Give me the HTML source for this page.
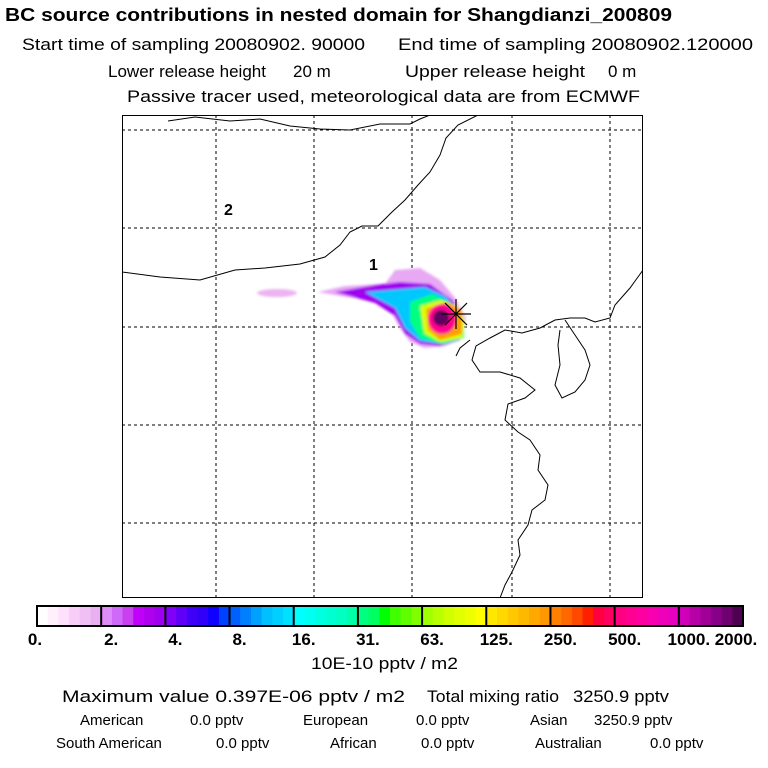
<!DOCTYPE html>
<html><head><meta charset="utf-8"><style>
body{margin:0;background:#fff;width:768px;height:768px;overflow:hidden;font-family:"Liberation Sans",sans-serif;}
svg{position:absolute;left:0;top:0}
</style></head><body>
<svg width="768" height="768">
<g font-family="Liberation Sans, sans-serif" fill="#000" font-size="17">
<text x="5" y="21" font-size="18" font-weight="bold" textLength="667" lengthAdjust="spacingAndGlyphs">BC  source contributions in nested domain for Shangdianzi_200809</text>
<text x="22" y="50" textLength="343" lengthAdjust="spacingAndGlyphs">Start time of sampling 20080902. 90000</text>
<text x="398" y="50" textLength="355" lengthAdjust="spacingAndGlyphs">End time of sampling 20080902.120000</text>
<text x="108" y="77" textLength="158" lengthAdjust="spacingAndGlyphs">Lower release height</text>
<text x="293" y="77">20 m</text>
<text x="405" y="77" textLength="180" lengthAdjust="spacingAndGlyphs">Upper release height</text>
<text x="608" y="77">0 m</text>
<text x="127" y="102" textLength="513" lengthAdjust="spacingAndGlyphs">Passive tracer used, meteorological data are from ECMWF</text>
</g>
<defs><clipPath id="mc"><rect x="122" y="115" width="521" height="483"/></clipPath>
<filter id="bl"><feGaussianBlur stdDeviation="1.2"/></filter></defs>
<g clip-path="url(#mc)">
<g stroke="#000" stroke-dasharray="3,3" stroke-width="1" id="grid"></g>
<g filter="url(#bl)">
<ellipse cx="277" cy="293" rx="20" ry="4" fill="#ecb4f0"/>
<path d="M318 292 L345 286 L385 284 L395 270 L420 268 L440 280 L455 298 L466 318 L462 338 L445 346 L425 348 L410 342 L400 328 L390 310 L370 300 L340 296 Z" fill="#e8a8f4"/>
<path d="M335 292 L375 285 L400 282 L430 284 L452 300 L465 320 L460 340 L440 346 L420 344 L405 334 L395 316 L375 303 Z" fill="#a000f0"/>
<path d="M365 292 L425 287 L445 296 L462 316 L462 338 L445 344 L420 341 L405 328 L395 308 L380 300 Z" fill="#00c8ff"/>
<path d="M410 302 L432 294 L450 302 L464 318 L464 338 L442 344 L420 338 L410 322 Z" fill="#00ff80"/>
<path d="M420 306 L440 300 L458 306 L465 320 L462 338 L440 342 L424 333 Z" fill="#d8ff00"/>
<path d="M426 309 L446 302 L462 310 L462 334 L440 340 L428 330 Z" fill="#ffa000"/>
<ellipse cx="442" cy="319" rx="14" ry="15" fill="#ff0090"/>
<ellipse cx="441" cy="318" rx="8" ry="8" fill="#600060"/>
</g>
<g fill="none" stroke="#000" stroke-width="1">
<path d="M168 121 L195 117 L230 121 L260 119 L290 126 L320 129 L350 130 L380 124 L410 124 L420 119 L430 115"/>
<path d="M122 272 L160 277 L200 280 L235 270 L265 268 L300 264 L325 257 L340 245 L350 232 L362 226 L378 226 L392 212 L405 200 L418 185 L430 172 L440 155 L446 138 L458 125 L478 115"/>
<path d="M643 270 L630 288 L615 305 L610 318 L595 322 L585 318 L570 318 L555 320 L540 328 L522 333 L505 330 L490 338 L476 346 L472 360 L480 372 L500 372 L520 378 L535 390 L525 398 L508 404 L505 420 L518 432 L530 440 L540 455 L538 470 L548 485 L545 500 L532 510 L528 525 L518 540 L520 555 L512 572 L505 585 L500 598"/>
<path d="M565 320 L575 335 L585 350 L590 365 L585 380 L575 392 L562 398 L555 385 L560 365 L558 345 L560 330"/>
<path d="M470 340 L460 348 L456 356"/>
</g>
<g stroke="#000" stroke-width="1.2">
<line x1="445" y1="303" x2="467" y2="325"/><line x1="467" y1="303" x2="445" y2="325"/>
<line x1="441" y1="314" x2="471" y2="314"/><line x1="456" y1="299" x2="456" y2="329"/>
</g>
<text x="224" y="215" font-size="16" font-weight="bold" font-family="Liberation Sans, sans-serif">2</text>
<text x="369" y="270" font-size="16" font-weight="bold" font-family="Liberation Sans, sans-serif">1</text>
</g>
<rect x="122.5" y="115.5" width="520" height="482" fill="none" stroke="#000"/>
<g id="cbar"></g>
<g font-family="Liberation Sans, sans-serif" fill="#000" font-size="15">
<text x="311" y="669" font-size="17" textLength="147" lengthAdjust="spacingAndGlyphs">10E-10 pptv / m2</text>
<text x="62" y="702" font-size="17" textLength="343" lengthAdjust="spacingAndGlyphs">Maximum value  0.397E-06 pptv / m2</text>
<text x="427" y="702" font-size="17" textLength="132" lengthAdjust="spacingAndGlyphs">Total mixing ratio</text>
<text x="573" y="702" font-size="17" textLength="96" lengthAdjust="spacingAndGlyphs">3250.9 pptv</text>
<text x="80" y="725">American</text>
<text x="190" y="725">0.0 pptv</text>
<text x="303" y="725">European</text>
<text x="416" y="725">0.0 pptv</text>
<text x="530" y="725">Asian</text>
<text x="594" y="725">3250.9 pptv</text>
<text x="56" y="748">South American</text>
<text x="216" y="748">0.0 pptv</text>
<text x="330" y="748">African</text>
<text x="421" y="748">0.0 pptv</text>
<text x="535" y="748">Australian</text>
<text x="650" y="748">0.0 pptv</text>
</g>
</svg>
<script>
const levelLabels=["0.","2.","4.","8.","16.","31.","63.","125.","250.","500.","1000.","2000."];
const colors=["#ffffff","#fff0fb","#fde0fb","#f8cdf8","#f0c0f5","#e8b0f0",
"#e08cf8","#d068f8","#c840f0","#c000f8","#b000f0","#a000f0",
"#8000f8","#6000f8","#4000f8","#3000f8","#1000ff","#0040ff",
"#0060ff","#0080ff","#00a0ff","#00c0ff","#00d0ff","#00e0ff",
"#00ffff","#00fff0","#00ffe0","#00ffd0","#00ffc0","#00ffa8",
"#00ff80","#00ff60","#00ff00","#40ff00","#60ff00","#80ff00",
"#a0ff00","#b8ff00","#d0ff00","#e0ff00","#f0ff00","#ffff00",
"#ffe800","#ffd800","#ffc800","#ffb800","#ffa800","#ff9800",
"#ff8000","#ff6800","#ff4800","#ff2000","#ff0040","#ff0060",
"#ff0080","#ff0090","#ff00a0","#f800b0","#f000b8","#e800c0",
"#d000b8","#b800a8","#a00098","#880088","#700070","#500050"];
const gridX=[216,314,412,512,610];
const gridY=[130,228,327,425,523];
const NS="http://www.w3.org/2000/svg";
const g=document.getElementById('grid');
gridX.forEach(x=>{const l=document.createElementNS(NS,'line');l.setAttribute('x1',x);l.setAttribute('x2',x);l.setAttribute('y1',115);l.setAttribute('y2',598);

g.appendChild(l);});
gridY.forEach(y=>{const l=document.createElementNS(NS,'line');l.setAttribute('y1',y);l.setAttribute('y2',y);l.setAttribute('x1',122);l.setAttribute('x2',643);

g.appendChild(l);});
const cb=document.getElementById('cbar');
const x0=37,x1=743,y0=606,h=20;
const nSeg=levelLabels.length-1, segW=(x1-x0)/nSeg, cw=(x1-x0)/colors.length;
colors.forEach((c,i)=>{const r=document.createElementNS(NS,'rect');r.setAttribute('x',x0+i*cw);r.setAttribute('y',y0);r.setAttribute('width',cw+0.5);r.setAttribute('height',h);r.setAttribute('fill',c);

cb.appendChild(r);});
for(let i=0;i<=nSeg;i++){const x=x0+i*segW;
 const l=document.createElementNS(NS,'line');l.setAttribute('x1',x);l.setAttribute('x2',x);l.setAttribute('y1',y0);l.setAttribute('y2',y0+h);l.setAttribute('stroke','#000');l.setAttribute('stroke-width','2');
 
 cb.appendChild(l);
 const t=document.createElementNS(NS,'text');
 t.setAttribute('x',i==0?x-2:(i==nSeg?x-7:x+10));
 t.setAttribute('text-anchor','middle');
 t.setAttribute('y',645);t.setAttribute('font-size','17');t.setAttribute('font-weight','bold');t.setAttribute('font-family','Liberation Sans, sans-serif');
 t.textContent=levelLabels[i];
 
 cb.appendChild(t);}
const fr=document.createElementNS(NS,'rect');fr.setAttribute('x',x0);fr.setAttribute('y',y0);fr.setAttribute('width',x1-x0);fr.setAttribute('height',h);fr.setAttribute('fill','none');fr.setAttribute('stroke','#000');fr.setAttribute('stroke-width','2');

cb.appendChild(fr);
</script>
</body></html>
